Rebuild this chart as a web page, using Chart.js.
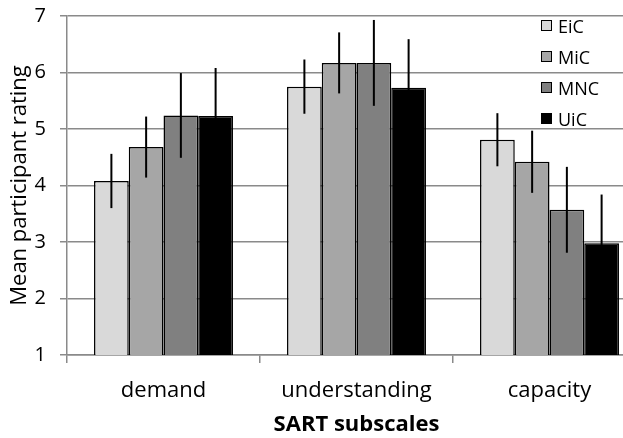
<!DOCTYPE html>
<html>
<head>
<meta charset="utf-8">
<script src="https://cdn.jsdelivr.net/npm/chart.js@4.4.1/dist/chart.umd.min.js"></script>
<style>
  html, body { margin: 0; padding: 0; background: #fff; overflow: hidden; }
  #wrap { position: relative; width: 660px; height: 438px; }
  #legend { position: absolute; left: 541px; top: 10px; font-family: "Open Sans", sans-serif; font-size: 18px; color: #000; }
  #legend div { display: flex; align-items: center; height: 31px; }
  #legend span.box { display: inline-block; width: 9px; height: 9px; border: 1.5px solid #000; margin-right: 6px; }
</style>
</head>
<body>
<div id="wrap">
  <canvas id="sartChart" width="660" height="438"></canvas>
  <div id="legend"></div>
</div>
<script>
// SART subscale ratings per condition
const categories = ['demand', 'understanding', 'capacity'];
const seriesNames = ['EiC', 'MiC', 'MNC', 'UiC'];
const seriesColors = ['#d9d9d9', '#a6a6a6', '#808080', '#000000'];

const eicMeans = [4.08, 5.75, 4.81];
const micMeans = [4.68, 6.17, 4.42];
const mncMeans = [5.24, 6.17, 3.57];
const uicMeans = [5.23, 5.73, 2.98];

// error bar half-lengths
const eicErr = [0.48, 0.48, 0.47];
const micErr = [0.54, 0.54, 0.55];
const mncErr = [0.75, 0.76, 0.76];
const uicErr = [0.85, 0.86, 0.86];

const yTicks = [1, 2, 3, 4, 5, 6, 7];

const allMeans = [eicMeans, micMeans, mncMeans, uicMeans];
const allErrs = [eicErr, micErr, mncErr, uicErr];

// draws vertical error lines over each bar (no caps)
const errorBars = {
  id: 'errorBars',
  afterDatasetsDraw(chart) {
    const ctx = chart.ctx;
    const y = chart.scales.y;
    ctx.save();
    ctx.strokeStyle = '#000';
    ctx.lineWidth = 2;
    chart.data.datasets.forEach((ds, i) => {
      const meta = chart.getDatasetMeta(i);
      meta.data.forEach((bar, j) => {
        const v = ds.data[j], e = ds.errors[j];
        ctx.beginPath();
        ctx.moveTo(bar.x, y.getPixelForValue(v + e));
        ctx.lineTo(bar.x, y.getPixelForValue(v - e));
        ctx.stroke();
      });
    });
    ctx.restore();
  }
};

const sartChart = new Chart(document.getElementById('sartChart').getContext('2d'), {
  type: 'bar',
  data: {
    labels: categories,
    datasets: seriesNames.map((name, i) => ({
      label: name,
      data: allMeans[i],
      errors: allErrs[i],
      backgroundColor: seriesColors[i],
      borderColor: '#000',
      borderWidth: 1.5,
      borderSkipped: false,
      barPercentage: 1,
      categoryPercentage: 0.72
    }))
  },
  options: {
    responsive: false,
    animation: false,
    layout: { padding: { top: 16, right: 14, left: 0, bottom: 0 } },
    plugins: {
      legend: { display: false },
      tooltip: { enabled: false }
    },
    scales: {
      x: {
        grid: { drawOnChartArea: false, drawTicks: true, tickLength: 8, color: '#8a8a8a', lineWidth: 1.5 },
        border: { color: '#8a8a8a', width: 1.5 },
        ticks: { color: '#000', font: { family: 'Open Sans', size: 22 }, padding: 15 },
        title: { display: true, text: 'SART subscales', color: '#000', font: { family: 'Open Sans', size: 22, weight: 'bold' }, padding: { top: 0, bottom: 0 } },
        afterFit(scale) { scale.height = 83; }
      },
      y: {
        min: 1,
        max: 7,
        afterBuildTicks(scale) { scale.ticks = yTicks.map(v => ({ value: v })); },
        grid: { color: '#8a8a8a', lineWidth: 1.5, tickLength: 7 },
        border: { color: '#8a8a8a', width: 1.5 },
        ticks: { color: '#000', font: { family: 'Open Sans', size: 20 }, padding: 14 },
        title: { display: true, text: 'Mean participant rating', color: '#000', font: { family: 'Open Sans', size: 22 }, padding: { top: 7, bottom: 0 } },
        afterFit(scale) {
          scale.width = 67;
          scale.paddingTop = 0;
          scale.paddingBottom = 0;
        }
      }
    }
  },
  plugins: [errorBars]
});

// legend inside the plot, top right
const legendEl = document.getElementById('legend');
seriesNames.forEach((name, i) => {
  const row = document.createElement('div');
  row.innerHTML = `<span class="box" style="background:${seriesColors[i]}"></span>${name}`;
  legendEl.appendChild(row);
});
</script>
</body>
</html>
